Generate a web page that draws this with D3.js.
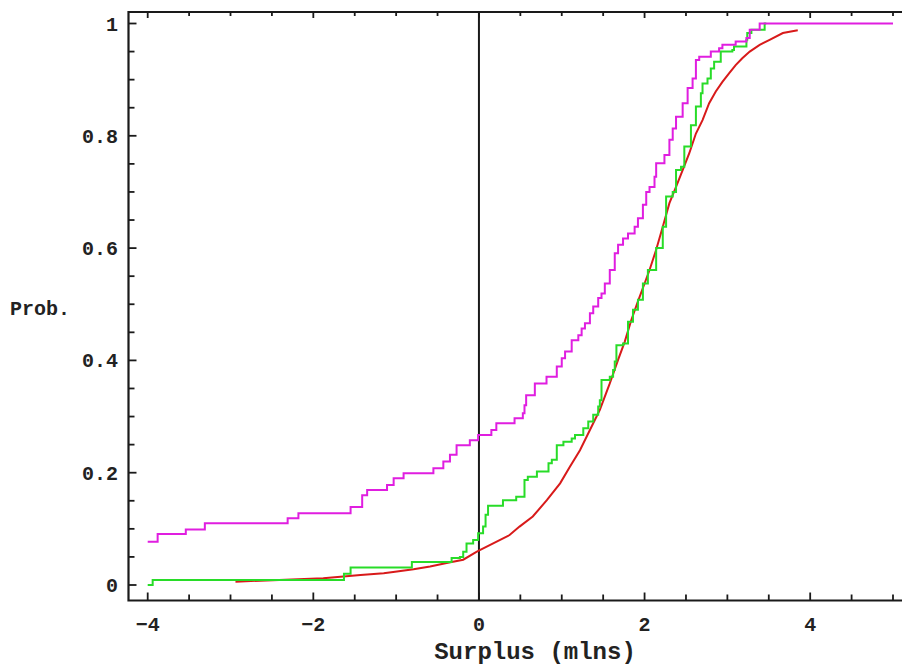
<!DOCTYPE html>
<html>
<head>
<meta charset="utf-8">
<script src="https://cdn.jsdelivr.net/npm/d3@7"></script>
<style>
  body { margin: 0; background: #fff; }
  text { font-family: "Liberation Mono", "DejaVu Sans Mono", monospace; fill: #222; }
</style>
</head>
<body>
<div id="container"></div>
<script>
/* CONSTANTS AND GLOBALS */
const width = 902;
const height = 667;

// tick values + labels
const xMajor = [-4, -2, 0, 2, 4];
const xMajorLabels = ["\u22124", "\u22122", "0", "2", "4"];
const xMinor = [-3.5, -3, -2.5, -1.5, -1, -0.5, 0.5, 1, 1.5, 2.5, 3, 3.5, 4.5, 5];
const yMajor = [0, 0.2, 0.4, 0.6, 0.8, 1];
const yMajorLabels = ["0", "0.2", "0.4", "0.6", "0.8", "1"];
const yMinor = [0.05, 0.1, 0.15, 0.25, 0.3, 0.35, 0.45, 0.5, 0.55, 0.65, 0.7, 0.75, 0.85, 0.9, 0.95];

// magenta series (step cdf)
const magentaX = [-4.0, -3.88, -3.54, -3.31, -2.31, -2.18, -1.55, -1.41, -1.35, -1.11, -1.03, -0.91,
  -0.55, -0.43, -0.35, -0.27, -0.11, -0.01, 0.15, 0.21, 0.43, 0.53, 0.55, 0.57, 0.675, 0.816,
  0.94, 1.00, 1.04, 1.12, 1.20, 1.24, 1.28, 1.34, 1.38, 1.44, 1.48, 1.52, 1.58, 1.64, 1.68,
  1.74, 1.80, 1.88, 1.92, 1.98, 2.02, 2.06, 2.12, 2.14, 2.24, 2.30, 2.34, 2.38, 2.46, 2.52,
  2.58, 2.62, 2.66, 2.80, 2.90, 2.94, 3.10, 3.23, 3.27, 3.39, 5.0];
const magentaY = [0.077, 0.091, 0.099, 0.110, 0.119, 0.128, 0.139, 0.160, 0.169, 0.178, 0.190, 0.199,
  0.208, 0.220, 0.232, 0.249, 0.258, 0.267, 0.276, 0.288, 0.297, 0.306, 0.320, 0.338, 0.359, 0.371,
  0.389, 0.404, 0.416, 0.436, 0.445, 0.457, 0.466, 0.484, 0.496, 0.511, 0.519, 0.537, 0.561, 0.591, 0.606,
  0.617, 0.626, 0.638, 0.653, 0.677, 0.700, 0.709, 0.727, 0.751, 0.766, 0.793, 0.813, 0.834, 0.858, 0.885,
  0.902, 0.935, 0.941, 0.950, 0.956, 0.962, 0.968, 0.974, 0.989, 1.0, 1.0];

// green series (step cdf)
const greenX = [-4.0, -3.94, -1.63, -1.55, -0.81, -0.33, -0.23, -0.19, -0.15, -0.07, -0.01, 0.05, 0.08,
  0.11, 0.29, 0.45, 0.55, 0.59, 0.70, 0.84, 0.88, 0.94, 1.02, 1.12, 1.16, 1.26, 1.32, 1.38, 1.44,
  1.46, 1.48, 1.58, 1.62, 1.64, 1.66, 1.74, 1.80, 1.86, 1.92, 1.98, 2.04, 2.14, 2.22, 2.26, 2.34,
  2.38, 2.44, 2.48, 2.56, 2.62, 2.68, 2.70, 2.76, 2.80, 2.84, 2.92, 3.06, 3.08, 3.23, 3.24, 3.29,
  3.45, 3.47];
const greenY = [0.0, 0.009, 0.020, 0.031, 0.041, 0.048, 0.050, 0.059, 0.074, 0.080, 0.092, 0.104, 0.125,
  0.141, 0.151, 0.157, 0.187, 0.193, 0.202, 0.217, 0.223, 0.249, 0.255, 0.261, 0.267, 0.279, 0.291, 0.303, 0.318,
  0.329, 0.365, 0.371, 0.383, 0.398, 0.427, 0.430, 0.469, 0.490, 0.508, 0.537, 0.561, 0.600, 0.638, 0.692, 0.700,
  0.739, 0.745, 0.781, 0.819, 0.852, 0.876, 0.893, 0.902, 0.920, 0.932, 0.950, 0.953, 0.959, 0.971, 0.983, 0.989,
  1.0, 1.0];

// red series (smooth-ish cdf)
const redX = [-2.94, -1.88, -1.43, -1.15, -0.99, -0.79, -0.59, -0.39, -0.19, -0.03, 0.01, 0.13, 0.37,
  0.49, 0.65, 0.82, 0.98, 1.10, 1.22, 1.34, 1.46, 1.58, 1.68, 1.76, 1.84, 1.92, 2.00, 2.06, 2.14,
  2.22, 2.30, 2.38, 2.46, 2.54, 2.62, 2.70, 2.78, 2.86, 2.94, 3.02, 3.10, 3.18, 3.27, 3.39, 3.51,
  3.67, 3.85];
const redY = [0.006, 0.012, 0.018, 0.021, 0.024, 0.028, 0.033, 0.039, 0.045, 0.059, 0.062, 0.071, 0.089,
  0.104, 0.122, 0.151, 0.181, 0.211, 0.240, 0.276, 0.312, 0.359, 0.401, 0.433, 0.472, 0.505, 0.537, 0.561, 0.597,
  0.638, 0.680, 0.709, 0.739, 0.769, 0.804, 0.828, 0.858, 0.879, 0.896, 0.911, 0.926, 0.938, 0.950, 0.962, 0.971,
  0.983, 0.988];

/* SCALES */
const xScale = d3.scaleLinear().domain([-4, 5]).range([147.7, 893]);
const yScale = d3.scaleLinear().domain([0, 1]).range([585, 23.5]);

const frameLeft = 128.5, frameTop = 12, frameBottom = 600.5, frameRight = 910;

/* HTML ELEMENTS */
const svg = d3.select("#container")
  .append("svg")
  .attr("width", width)
  .attr("height", height);

// frame
svg.append("path")
  .attr("d", `M${frameRight},${frameTop}H${frameLeft}V${frameBottom}H${frameRight}`)
  .attr("fill", "none")
  .attr("stroke", "#1a1a1a")
  .attr("stroke-width", 2.2);

// ticks, all pointing inward
const tickG = svg.append("g").attr("stroke", "#1a1a1a").attr("stroke-width", 1.8);
function xTicks(vals, y0, len) {
  tickG.append("g").selectAll("line").data(vals).join("line")
    .attr("x1", d => xScale(d)).attr("x2", d => xScale(d))
    .attr("y1", y0).attr("y2", y0 + len);
}
function yTicks(vals, len) {
  tickG.append("g").selectAll("line").data(vals).join("line")
    .attr("x1", frameLeft).attr("x2", frameLeft + len)
    .attr("y1", d => yScale(d)).attr("y2", d => yScale(d));
}
xTicks(xMajor, frameBottom, -8);
xTicks(xMinor, frameBottom, -6);
xTicks(xMajor, frameTop, 6);
xTicks(xMinor, frameTop, 4);
yTicks(yMajor, 8);
yTicks(yMinor, 6);

// tick labels
svg.selectAll(".xlab")
  .data(xMajor)
  .join("text")
  .attr("class", "xlab")
  .attr("x", d => xScale(d))
  .attr("y", 631)
  .attr("text-anchor", "middle")
  .style("font-size", "20px")
  .style("font-weight", "bold")
  .text((d, i) => xMajorLabels[i]);

svg.selectAll(".ylab")
  .data(yMajor)
  .join("text")
  .attr("class", "ylab")
  .attr("x", 118)
  .attr("y", d => yScale(d))
  .attr("dy", "0.35em")
  .attr("text-anchor", "end")
  .style("font-size", "20px")
  .style("font-weight", "bold")
  .text((d, i) => yMajorLabels[i]);

// axis titles
svg.append("text")
  .attr("x", 535).attr("y", 659)
  .attr("text-anchor", "middle")
  .style("font-size", "24px")
  .style("font-weight", "bold")
  .text("Surplus (mlns)");

svg.append("text")
  .attr("x", 10).attr("y", 315)
  .style("font-size", "20px")
  .style("font-weight", "bold")
  .text("Prob.");

// vertical line at 0
svg.append("line")
  .attr("x1", xScale(0)).attr("x2", xScale(0))
  .attr("y1", frameTop).attr("y2", frameBottom)
  .attr("stroke", "#1a1a1a")
  .attr("stroke-width", 2);

/* LINES */
const series = [
  { xs: redX, ys: redY, color: "#d81a1a", curve: d3.curveLinear },
  { xs: greenX, ys: greenY, color: "#28dc28", curve: d3.curveStepAfter },
  { xs: magentaX, ys: magentaY, color: "#e01ee0", curve: d3.curveStepAfter }
];

series.forEach(s => {
  const pts = s.xs.map((x, i) => [x, s.ys[i]]);
  svg.append("path")
    .datum(pts)
    .attr("fill", "none")
    .attr("stroke", s.color)
    .attr("stroke-width", 2)
    .attr("d", d3.line().x(d => xScale(d[0])).y(d => yScale(d[1])).curve(s.curve));
});
</script>
</body>
</html>
